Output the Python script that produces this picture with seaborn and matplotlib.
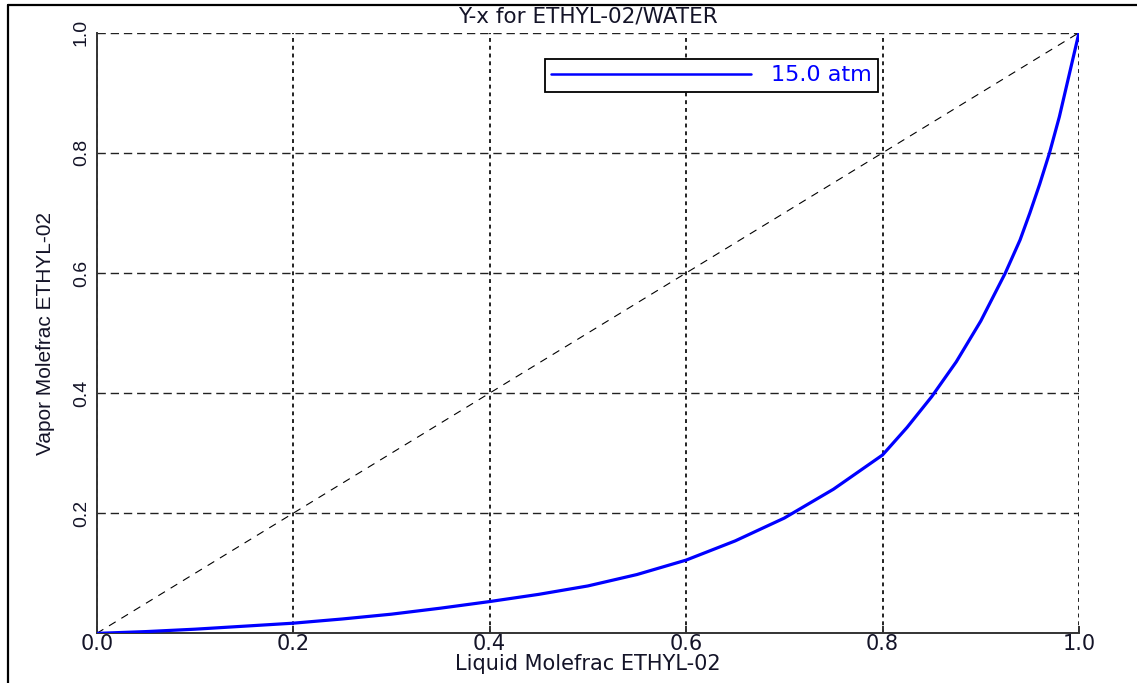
import matplotlib
matplotlib.use("Agg")
import matplotlib.pyplot as plt
import seaborn as sns
import pandas as pd
from matplotlib.lines import Line2D

# ---- data ----
liquid_x = [0.0, 0.05, 0.1, 0.15, 0.2, 0.25, 0.3, 0.35, 0.4, 0.45, 0.5,
            0.55, 0.6, 0.65, 0.7, 0.75, 0.8, 0.825, 0.85, 0.875, 0.9,
            0.925, 0.94, 0.95, 0.96, 0.97, 0.98, 0.99, 1.0]
vapor_y = [0.0, 0.003, 0.007, 0.012, 0.017, 0.024, 0.032, 0.042, 0.053,
           0.065, 0.079, 0.098, 0.122, 0.154, 0.192, 0.24, 0.297, 0.343,
           0.394, 0.452, 0.52, 0.6, 0.655, 0.70, 0.748, 0.80, 0.86, 0.93, 1.0]
series_label = "15.0 atm"
diag_x = [0.0, 1.0]
diag_y = [0.0, 1.0]
title_text = "Y-x for ETHYL-02/WATER"
xlabel_text = "Liquid Molefrac ETHYL-02"
ylabel_text = "Vapor Molefrac ETHYL-02"
tick_values = [0.0, 0.2, 0.4, 0.6, 0.8, 1.0]
x_tick_labels = ["0.0", "0.2", "0.4", "0.6", "0.8", "1.0"]
y_tick_labels = ["", "0.2", "0.4", "0.6", "0.8", "1.0"]

sns.set_theme(style="white")
plt.rcParams["font.family"] = ["DejaVu Sans"]
narrow = ["Liberation Sans Narrow", "Liberation Sans", "DejaVu Sans"]
txt_color = "#141428"

fig = plt.figure(figsize=(11.37, 6.83), dpi=100)
W, H = 1137, 683
ax = fig.add_axes([96.7 / W, 1 - 633.4 / H, (1079 - 96.7) / W, (633.4 - 32.7) / H])

df = pd.DataFrame({"x": liquid_x, "y": vapor_y})
sns.lineplot(data=df, x="x", y="y", ax=ax, color="#0000ff", linewidth=2.3,
             sort=False, estimator=None, label=series_label, zorder=5)
ax.plot(diag_x, diag_y, color="black", linewidth=0.8,
        linestyle=(0, (7, 6)), zorder=3)

ax.set_xlim(0, 1)
ax.set_ylim(0, 1)
ax.set_xticks(tick_values)
ax.set_yticks(tick_values)
ax.set_xticklabels(x_tick_labels, fontsize=15, color=txt_color)
ax.set_yticklabels(y_tick_labels, rotation=90, fontsize=14, color=txt_color,
                   family=narrow, va="center")

# grid: dashed horizontals, dotted verticals
ax.yaxis.grid(True, color="#222222", linewidth=1.0, linestyle=(0, (6, 3.5)))
ax.xaxis.grid(True, color="#222222", linewidth=1.4, linestyle=(0, (2, 2)))
ax.set_axisbelow(True)

for s in ["top", "right"]:
    ax.spines[s].set_visible(False)
for s in ["left", "bottom"]:
    ax.spines[s].set_visible(True)
    ax.spines[s].set_color("#333333")
    ax.spines[s].set_linewidth(1.4)

ax.tick_params(axis="x", direction="in", length=5, width=1.4, color="#333333",
               pad=0.5, bottom=True)
ax.tick_params(axis="y", direction="in", length=0, width=1.4, color="#333333",
               pad=5, left=True)

ax.set_xlabel(xlabel_text, fontsize=15, color=txt_color)
ax.xaxis.set_label_coords(0.5, -0.034)
ax.set_ylabel(ylabel_text, fontsize=15, color=txt_color, family=narrow)
ax.yaxis.set_label_coords(-0.042, 0.5)

fig.text((96.7 + 1079) / 2 / W, 1 - 17 / H, title_text, ha="center",
         va="center", fontsize=15.5, color=txt_color)

leg = ax.legend(loc="upper left", bbox_to_anchor=(0.456, 0.956),
                borderaxespad=0, fancybox=False, framealpha=1,
                fontsize=16, handlelength=9.0, handletextpad=0.9,
                borderpad=0.28, labelcolor="#0000ff")
leg.get_frame().set_edgecolor("black")
leg.get_frame().set_linewidth(1.3)
for h in leg.get_lines():
    h.set_linewidth(1.8)

# figure border (left and top edges visible in the reference)
fig.add_artist(Line2D([8 / W, 8 / W], [0, 1 - 5 / H], transform=fig.transFigure,
                      color="black", linewidth=1.6))
fig.add_artist(Line2D([8 / W, 1], [1 - 5 / H, 1 - 5 / H], transform=fig.transFigure,
                      color="black", linewidth=1.6))

fig.savefig("out.png", dpi=100)
